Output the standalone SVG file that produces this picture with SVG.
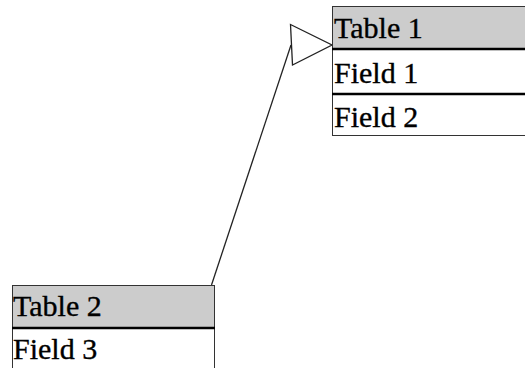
<svg xmlns="http://www.w3.org/2000/svg" width="525" height="368" viewBox="0 0 525 368">
<style>
.hdr{fill:#cccccc;stroke:#333;stroke-width:1}
.row{fill:#ffffff;stroke:#333;stroke-width:1}
.sep{stroke:#000;stroke-width:2.5}
.t{font-family:"Liberation Serif","Times New Roman",serif;font-size:30px;fill:#000;stroke:#000;stroke-width:0.35}
.conn{fill:none;stroke:#222;stroke-width:1.3}
</style>
<rect width="525" height="368" fill="#ffffff"/>
<g id="connectors">
<line class="conn" x1="211.5" y1="285" x2="291" y2="45"/>
<polygon class="conn" fill="#ffffff" points="290.5,24.5 292.5,65 332,45"/>
</g>
<g id="table1">
<rect class="row" x="332.5" y="94" width="220" height="41.5"/>
<rect class="row" x="332.5" y="49" width="220" height="45"/>
<rect class="hdr" x="332.5" y="6.5" width="220" height="42.5"/>
<line class="sep" x1="332" y1="49" x2="540" y2="49"/>
<line class="sep" x1="332" y1="94" x2="540" y2="94"/>
<text class="t" x="334" y="38">Table 1</text>
<text class="t" x="334" y="83">Field 1</text>
<text class="t" x="334" y="127">Field 2</text>
</g>
<g id="table2">
<rect class="row" x="12.5" y="328" width="202" height="60"/>
<rect class="hdr" x="12.5" y="285.5" width="202" height="42.5"/>
<line class="sep" x1="12" y1="328" x2="215" y2="328"/>
<text class="t" x="13" y="316">Table 2</text>
<text class="t" x="13" y="359">Field 3</text>
</g>
</svg>
